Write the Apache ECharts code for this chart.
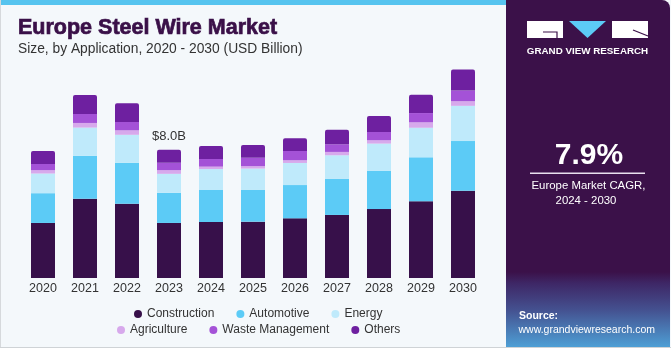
<!DOCTYPE html>
<html>
<head>
<meta charset="utf-8">
<script src="https://cdn.jsdelivr.net/npm/echarts@6/dist/echarts.min.js"></script>
<style>
html,body{margin:0;padding:0;background:#ffffff;}
#chart{width:671px;height:350px;}
</style>
</head>
<body>
<div id="chart"></div>
<script>
const years = ['2020','2021','2022','2023','2024','2025','2026','2027','2028','2029','2030'];
const construction = [3.44, 4.96, 4.64, 3.44, 3.50, 3.52, 3.73, 3.94, 4.31, 4.79, 5.46];
const automotive   = [1.86, 2.67, 2.56, 1.88, 2.00, 2.00, 2.08, 2.25, 2.38, 2.75, 3.10];
const energy       = [1.23, 1.77, 1.75, 1.19, 1.31, 1.32, 1.38, 1.48, 1.71, 1.85, 2.20];
const agriculture  = [0.21, 0.29, 0.28, 0.23, 0.15, 0.15, 0.17, 0.21, 0.21, 0.34, 0.29];
const waste        = [0.39, 0.56, 0.52, 0.46, 0.48, 0.52, 0.58, 0.48, 0.52, 0.58, 0.67];
const others       = [0.81, 1.19, 1.17, 0.81, 0.81, 0.81, 0.79, 0.90, 1.00, 1.14, 1.31];
const seriesNames = ['Construction','Automotive','Energy','Agriculture','Waste Management','Others'];
const legendRow1 = ['Construction','Automotive','Energy'];
const legendRow2 = ['Agriculture','Waste Management','Others'];
const annotatedIndex = 3;
const annotationText = '$8.0B';
const titleText = 'Europe Steel Wire Market';
const subtitleText = 'Size, by Application, 2020 - 2030 (USD Billion)';
const cagrText = '7.9%';
const cagrLabel1 = 'Europe Market CAGR,';
const cagrLabel2 = '2024 - 2030';

const colors = ['#37104a','#5ccbf6','#bfeafb','#d7a9ec','#a452d7','#6e20a0'];
const seriesData = [construction, automotive, energy, agriculture, waste, others];

const chart = echarts.init(document.getElementById('chart'), null, {renderer:'canvas'});

const series = seriesNames.map((name, i) => {
  const isTop = i === seriesNames.length - 1;
  return {
    name: name,
    type: 'bar',
    stack: 'total',
    barWidth: 24,
    itemStyle: {
      color: colors[i],
      borderRadius: isTop ? [2,2,0,0] : 0
    },
    emphasis: {disabled: true},
    data: seriesData[i].map((v, j) => {
      if (isTop && j === annotatedIndex) {
        return {value: v, label: {show: true, position: 'top', distance: 7, formatter: annotationText,
          fontSize: 13, color: '#333333', fontFamily: 'Liberation Sans'}};
      }
      return v;
    })
  };
});

const legendCommon = {
  orient: 'horizontal',
  icon: 'circle',
  itemWidth: 8,
  itemHeight: 8,
  itemGap: 22,
  textStyle: {fontSize: 12, color: '#333333', fontFamily: 'Liberation Sans'},
  selectedMode: false
};

const option = {
  backgroundColor: '#f4f8fb',
  animation: false,
  grid: {left: 22, right: 187, top: 54, bottom: 72},
  xAxis: {
    type: 'category',
    data: years,
    axisLine: {show: false},
    axisTick: {show: false},
    axisLabel: {fontSize: 12.5, color: '#333333', margin: 4, fontFamily: 'Liberation Sans'}
  },
  yAxis: {type: 'value', min: 0, max: 14, show: false},
  legend: [
    Object.assign({}, legendCommon, {data: legendRow1, left: 129, top: 303}),
    Object.assign({}, legendCommon, {data: legendRow2, left: 112, top: 319})
  ],
  series: series,
  graphic: [
    {type: 'rect', z: 100, shape: {x: 0, y: 0, width: 506, height: 5}, style: {fill: '#56c4ef'}},
    {type: 'rect', z: 100, shape: {x: 0, y: 0, width: 1, height: 348}, style: {fill: '#d6d9dc'}},
    {type: 'rect', z: 100, shape: {x: 0, y: 347, width: 671, height: 3}, style: {fill: '#ffffff'}},
    {type: 'rect', z: 100, shape: {x: 0, y: 347, width: 671, height: 1}, style: {fill: '#cfd3d6'}},
    {type: 'text', z: 100, style: {x: 18, y: 28.5, text: titleText, verticalAlign: 'middle',
      font: 'bold 21.5px "Liberation Sans"', fill: '#3a1048', stroke: '#3a1048', lineWidth: 0.7}},
    {type: 'text', z: 100, style: {x: 18, y: 49, text: subtitleText, verticalAlign: 'middle',
      font: '13.8px "Liberation Sans"', fill: '#333333'}},
    // right panel
    {type: 'rect', z: 100, shape: {x: 506, y: 0, width: 164, height: 347, r: [0,8,0,0]},
      style: {fill: '#3b1149'}},
    {type: 'rect', z: 101, shape: {x: 506, y: 272, width: 164, height: 75},
      style: {fill: new echarts.graphic.LinearGradient(0,0,0,1,[
        {offset: 0, color: 'rgba(59,17,73,1)'},
        {offset: 0.15, color: '#3e2766'},
        {offset: 0.5, color: '#44508f'},
        {offset: 1, color: '#4e9fd5'}
      ])}},
    // logo
    {type: 'rect', z: 102, shape: {x: 527, y: 21, width: 36, height: 17}, style: {fill: '#ffffff'}},
    {type: 'polyline', z: 103, shape: {points: [[543,32],[557,32],[557,38]]}, style: {stroke: '#3b1149', lineWidth: 1.2, fill: null}},
    {type: 'polygon', z: 102, shape: {points: [[569,21],[606,21],[587.5,38]]}, style: {fill: '#5ccbf6'}},
    {type: 'rect', z: 102, shape: {x: 612, y: 21, width: 36, height: 17}, style: {fill: '#ffffff'}},
    {type: 'line', z: 103, shape: {x1: 633, y1: 30, x2: 648, y2: 36}, style: {stroke: '#3b1149', lineWidth: 1.2}},
    {type: 'text', z: 102, style: {x: 587.5, y: 51, text: 'GRAND VIEW RESEARCH', align: 'center', verticalAlign: 'middle',
      font: 'bold 9.8px "Liberation Sans"', fill: '#ffffff'}},
    {type: 'text', z: 102, style: {x: 589, y: 155.5, text: cagrText, align: 'center', verticalAlign: 'middle',
      font: 'bold 30px "Liberation Sans"', fill: '#ffffff'}},
    {type: 'rect', z: 102, shape: {x: 530, y: 172.5, width: 115, height: 1.5}, style: {fill: '#e8e0ee'}},
    {type: 'text', z: 102, style: {x: 588.5, y: 185.5, text: cagrLabel1, align: 'center', verticalAlign: 'middle',
      font: '11.4px "Liberation Sans"', fill: '#ffffff'}},
    {type: 'text', z: 102, style: {x: 586, y: 201, text: cagrLabel2, align: 'center', verticalAlign: 'middle',
      font: '11.4px "Liberation Sans"', fill: '#ffffff'}},
    {type: 'text', z: 102, style: {x: 519, y: 316, text: 'Source:', verticalAlign: 'middle',
      font: 'bold 10.5px "Liberation Sans"', fill: '#ffffff'}},
    {type: 'text', z: 102, style: {x: 518.5, y: 330, text: 'www.grandviewresearch.com', verticalAlign: 'middle',
      font: '10.5px "Liberation Sans"', fill: '#ffffff'}}
  ]
};
chart.setOption(option);
</script>
</body>
</html>
